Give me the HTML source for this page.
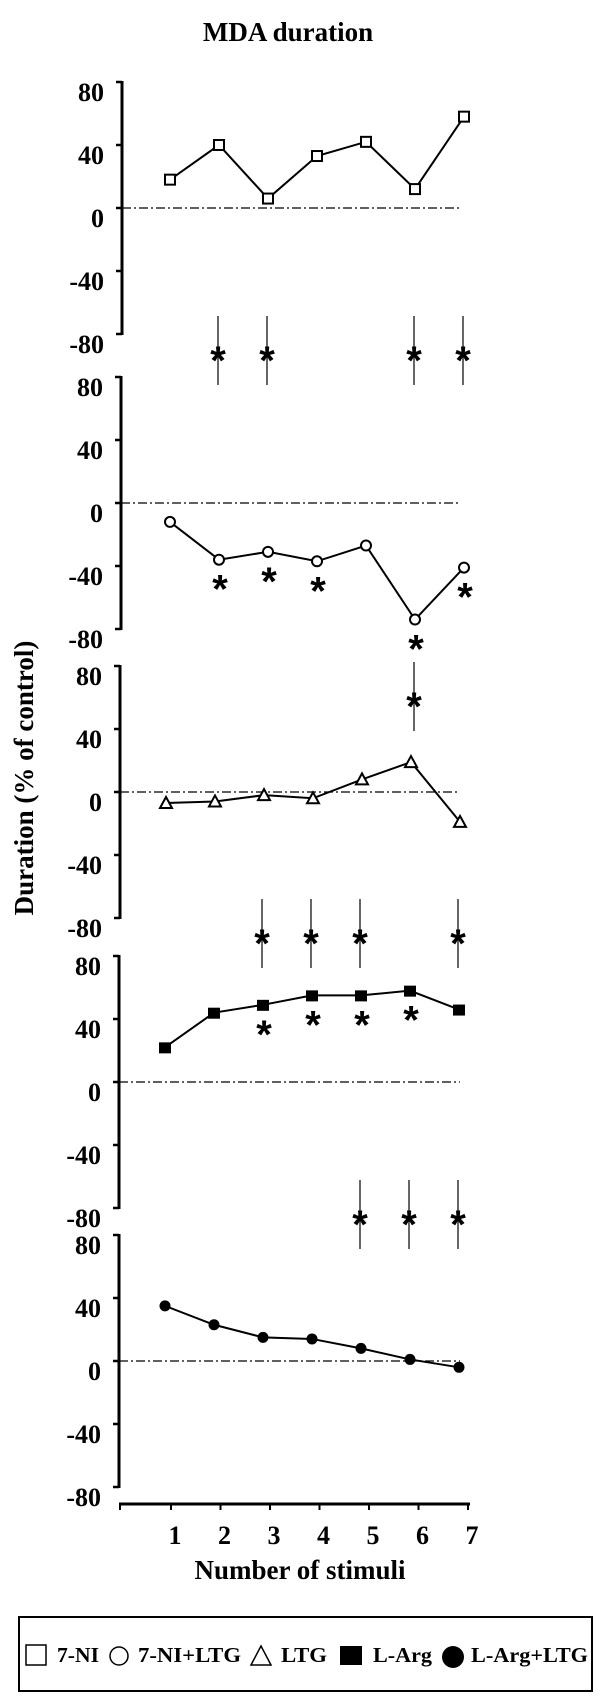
<!DOCTYPE html>
<html><head><meta charset="utf-8"><style>
html,body{margin:0;padding:0;background:#fff;}
svg{display:block;}
text{font-family:"Liberation Serif",serif;font-weight:bold;fill:#000;}
</style></head><body>
<svg id="chart" width="600" height="1696" viewBox="0 0 600 1696" xmlns="http://www.w3.org/2000/svg">
<text x="288" y="41" font-size="27" text-anchor="middle">MDA duration</text>
<text x="0" y="0" font-size="27" text-anchor="middle" transform="translate(33,778) rotate(-90)">Duration (% of control)</text>
<g id="panels"></g>
<g id="xaxis"></g>
<text x="300" y="1579" font-size="27" text-anchor="middle">Number of stimuli</text>
<g>
<rect x="19" y="1617" width="573" height="74" fill="none" stroke="#000" stroke-width="2"/>
<rect x="26" y="1645" width="20" height="20" fill="#fff" stroke="#000" stroke-width="1.5"/>
<text x="57" y="1662" font-size="21" textLength="42" lengthAdjust="spacingAndGlyphs">7-NI</text>
<circle cx="119" cy="1656" r="9" fill="#fff" stroke="#000" stroke-width="1.5"/>
<text x="138" y="1662" font-size="21" textLength="103" lengthAdjust="spacingAndGlyphs">7-NI+LTG</text>
<polygon points="251,1665 271,1665 261,1646" fill="#fff" stroke="#000" stroke-width="1.5"/>
<text x="281" y="1662" font-size="21" textLength="46" lengthAdjust="spacingAndGlyphs">LTG</text>
<rect x="340" y="1646" width="22" height="19" fill="#000"/>
<text x="373" y="1662" font-size="21" textLength="59" lengthAdjust="spacingAndGlyphs">L-Arg</text>
<circle cx="453" cy="1657" r="11" fill="#000"/>
<text x="471" y="1662" font-size="21" textLength="117" lengthAdjust="spacingAndGlyphs">L-Arg+LTG</text>
</g>
</svg>
<script>
const stimuli = [1, 2, 3, 4, 5, 6, 7];
const yTicks = [80, 40, 0, -40, -80];
const series7NI = [18, 40, 6, 33, 42, 12, 58];
const series7NILTG = [-12, -36, -31, -37, -27, -74, -41];
const seriesLTG = [-7, -6, -2, -4, 8, 19, -19];
const seriesLArg = [22, 44, 49, 55, 55, 58, 46];
const seriesLArgLTG = [35, 23, 15, 14, 8, 1, -4];
// significance markers: stimulus indices
const sigAbove2 = [2, 3, 6, 7];
const sigBelow2 = [2, 3, 4, 6, 7];
const sigAbove3 = [6];
const sigAbove4 = [3, 4, 5, 7];
const sigBelow4 = [3, 4, 5, 6];
const sigAbove5 = [5, 6, 7];

const NS = 'http://www.w3.org/2000/svg';
function mk(tag, attrs, parent) {
  const e = document.createElementNS(NS, tag);
  for (const k in attrs) e.setAttribute(k, attrs[k]);
  parent.appendChild(e);
  return e;
}
const panelsG = document.getElementById('panels');
const panels = [
  {name:'7-ni', data:series7NI, top:82, axisX:122, x0:170, marker:'osquare'},
  {name:'7-ni-ltg', data:series7NILTG, top:377, axisX:121, x0:170, marker:'ocircle'},
  {name:'ltg', data:seriesLTG, top:666, axisX:120, x0:166, marker:'otri'},
  {name:'l-arg', data:seriesLArg, top:956, axisX:119, x0:165, marker:'fsquare'},
  {name:'l-arg-ltg', data:seriesLArgLTG, top:1235, axisX:119, x0:165, marker:'fcircle'}
];
const H = 252, step = 49;
function yScale(p, v) { return p.top + (80 - v) / 160 * H; }
function xScale(p, s) { return p.x0 + (s - 1) * step; }

panels.forEach(function(p, pi) {
  const g = mk('g', {}, panelsG);
  
  
  const ax = mk('line', {x1:p.axisX, x2:p.axisX, y1:p.top - 1, y2:p.top + H + 1, stroke:'#000', 'stroke-width':3}, g);
  
  
  yTicks.forEach(function(t) {
    const y = yScale(p, t);
    const tk = mk('line', {x1:p.axisX - 6, x2:p.axisX, y1:y, y2:y, stroke:'#000', 'stroke-width':2.5}, g);
    
    
    const lb = mk('text', {x:p.axisX - 18, y:y + 19, 'font-size':26, 'text-anchor':'end'}, g);
    
    
    lb.textContent = String(t);
  });
  const zy = yScale(p, 0);
  const zl = mk('line', {x1:p.axisX, x2:460, y1:zy, y2:zy, stroke:'#000', 'stroke-width':1.2, 'stroke-dasharray':'9,3,2,3'}, g);
  
  
  const pts = p.data.map(function(v, i) { return xScale(p, stimuli[i]) + ',' + yScale(p, v); }).join(' ');
  const pl = mk('polyline', {points:pts, fill:'none', stroke:'#000', 'stroke-width':2}, g);
  
  
  p.data.forEach(function(v, i) {
    const cx = xScale(p, stimuli[i]), cy = yScale(p, v);
    let m;
    if (p.marker === 'osquare') m = mk('rect', {x:cx - 5, y:cy - 5, width:10, height:10, fill:'#fff', stroke:'#000', 'stroke-width':2}, g);
    else if (p.marker === 'ocircle') m = mk('circle', {cx:cx, cy:cy, r:5, fill:'#fff', stroke:'#000', 'stroke-width':2}, g);
    else if (p.marker === 'otri') m = mk('polygon', {points:(cx - 6) + ',' + (cy + 5) + ' ' + (cx + 6) + ',' + (cy + 5) + ' ' + cx + ',' + (cy - 6), fill:'#fff', stroke:'#000', 'stroke-width':2}, g);
    else if (p.marker === 'fsquare') m = mk('rect', {x:cx - 6, y:cy - 5, width:12, height:11, fill:'#000'}, g);
    else m = mk('circle', {cx:cx, cy:cy, r:5.5, fill:'#000'}, g);
    
    
  });
});

function star(x, y, name) {
  const s = mk('text', {x:x, y:y + 22, 'font-size':40, 'text-anchor':'middle', style:'font-family:"Liberation Sans",sans-serif;font-weight:bold'}, panelsG);
  
  
  s.textContent = '*';
}
function sigBar(p, s, yTop, name) {
  const x = xScale(p, s) - 1;
  const l = mk('line', {x1:x, x2:x, y1:yTop, y2:yTop + 69, stroke:'#000', 'stroke-width':1.2}, panelsG);
  
  
  star(x, yTop + 36, name + '-star');
}
sigAbove2.forEach(function(s) { sigBar(panels[0], s, 316, 'sig-marker-7ni-ltg-' + s); });
sigBelow2.forEach(function(s) { const p = panels[1]; star(xScale(p, s) + 1, yScale(p, p.data[s - 1]) + 21, 'sig-star-7ni-ltg-' + s); });
sigAbove3.forEach(function(s) { sigBar(panels[1], s, 662, 'sig-marker-ltg-' + s); });
sigAbove4.forEach(function(s) { sigBar(panels[3], s, 899, 'sig-marker-l-arg-' + s); });
sigBelow4.forEach(function(s) { const p = panels[3]; star(xScale(p, s) + 1, yScale(p, p.data[s - 1]) + 21, 'sig-star-l-arg-' + s); });
sigAbove5.forEach(function(s) { sigBar(panels[4], s, 1180, 'sig-marker-l-arg-ltg-' + s); });

const xg = document.getElementById('xaxis');
const xa = mk('line', {x1:119, x2:470, y1:1504, y2:1504, stroke:'#000', 'stroke-width':3}, xg);


const t0 = mk('line', {x1:120, x2:120, y1:1504, y2:1510, stroke:'#000', 'stroke-width':2}, xg);


stimuli.forEach(function(s) {
  const x = 171 + (s - 1) * 49.5;
  const tk = mk('line', {x1:x, x2:x, y1:1504, y2:1510, stroke:'#000', 'stroke-width':2}, xg);
  
  
  const lb = mk('text', {x:x + 4, y:1544, 'font-size':26, 'text-anchor':'middle'}, xg);
  
  
  lb.textContent = String(s);
});
</script>
</body></html>
